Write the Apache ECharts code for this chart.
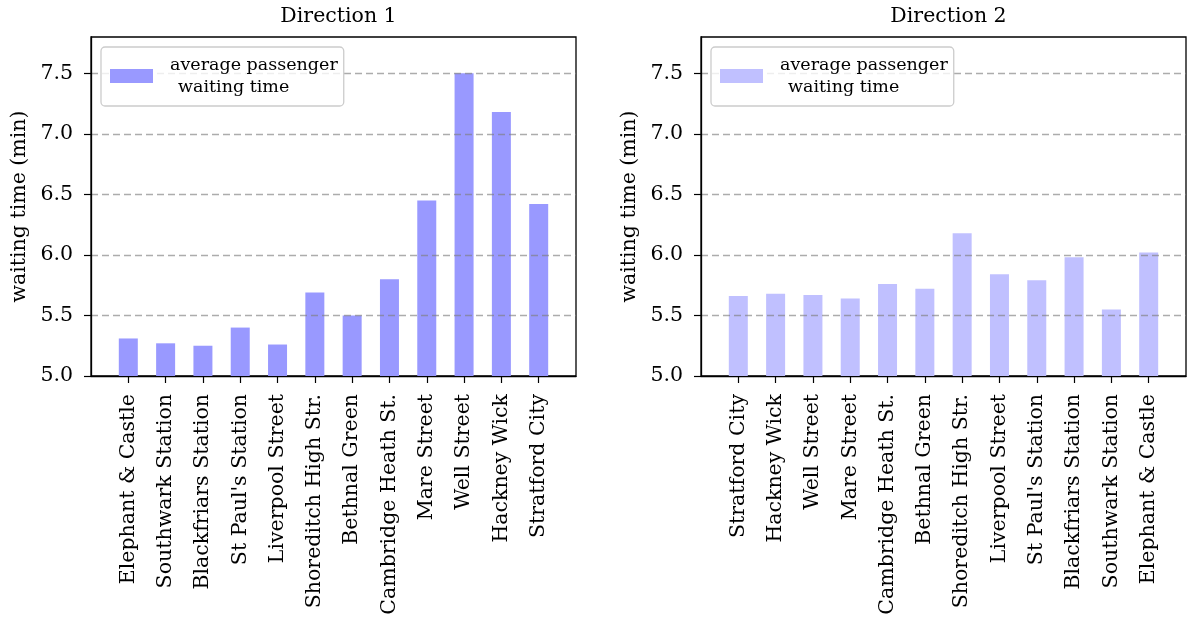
<!DOCTYPE html>
<html>
<head>
<meta charset="utf-8">
<script src="https://cdn.jsdelivr.net/npm/echarts@6/dist/echarts.min.js"></script>
<style>html,body{margin:0;padding:0;background:#fff}#c{width:1194px;height:621px}</style>
</head>
<body>
<div id="c"></div>
<script>
const categories1 = ['Elephant & Castle','Southwark Station','Blackfriars Station',"St Paul's Station",'Liverpool Street','Shoreditch High Str.','Bethnal Green','Cambridge Heath St.','Mare Street','Well Street','Hackney Wick','Stratford City'];
const values1 = [5.31, 5.27, 5.25, 5.40, 5.26, 5.69, 5.50, 5.80, 6.45, 7.50, 7.18, 6.42];
const categories2 = ['Stratford City','Hackney Wick','Well Street','Mare Street','Cambridge Heath St.','Bethnal Green','Shoreditch High Str.','Liverpool Street',"St Paul's Station",'Blackfriars Station','Southwark Station','Elephant & Castle'];
const values2 = [5.66, 5.68, 5.67, 5.64, 5.76, 5.72, 6.18, 5.84, 5.79, 5.98, 5.55, 6.02];
const titles = ['Direction 1', 'Direction 2'];
const yAxisName = 'waiting time (min)';
const legendLines = ['average passenger', 'waiting time'];

const FONT = 'DejaVu Serif';
const FS = 20.5;
const LFS = 17.5;
const colors = ['#9999ff', '#c0c0ff'];
const grids = [{left: 91, top: 37, width: 485, height: 339}, {left: 701, top: 37, width: 485, height: 339}];

function xAxis(cats, gi) {
  return {
    type: 'category', gridIndex: gi, boundaryGap: false,
    data: [''].concat(cats, ['']),
    axisLine: {lineStyle: {color: '#000', width: 1.3}},
    axisTick: {interval: (i, v) => v !== '', length: 7, lineStyle: {color: '#000', width: 1.2}},
    axisLabel: {interval: 0, rotate: 90, margin: 18, color: '#000', fontFamily: FONT, fontSize: FS},
    splitLine: {show: false}
  };
}
function yAxis(gi) {
  return {
    type: 'value', gridIndex: gi, min: 5, max: 7.8, interval: 0.5, z: 3,
    name: yAxisName, nameLocation: 'middle', nameGap: 61, nameRotate: 90,
    nameTextStyle: {color: '#000', fontFamily: FONT, fontSize: FS},
    axisLine: {show: true, lineStyle: {color: '#000', width: 1.3}},
    axisTick: {show: true, length: 7, lineStyle: {color: '#000', width: 1.2}},
    axisLabel: {showMaxLabel: false, margin: 18, color: '#000', fontFamily: FONT, fontSize: FS, formatter: v => v.toFixed(1)},
    splitLine: {show: true, showMinLine: false, showMaxLine: false, lineStyle: {color: 'rgba(128,128,128,0.65)', width: 1.4, type: [7, 4]}}
  };
}
const names = ['s1', 's2'];
const option = {
  animation: false,
  backgroundColor: '#fff',
  title: titles.map((t, i) => ({text: t, left: grids[i].left + grids[i].width / 2, top: 1, textAlign: 'center',
    textStyle: {fontFamily: FONT, fontSize: FS, fontWeight: 'normal', color: '#000'}})),
  grid: grids.map(g => Object.assign({show: true, borderColor: '#000', borderWidth: 1.3, backgroundColor: 'transparent'}, g)),
  legend: [0, 1].map(i => ({
    data: [{name: names[i], icon: 'rect'}], left: grids[i].left + 10, top: 47,
    orient: 'vertical', padding: [9, 6, 10, 9], itemWidth: 43, itemHeight: 14,
    backgroundColor: 'rgba(255,255,255,0.8)', borderColor: '#cccccc', borderWidth: 1.3, borderRadius: 4,
    formatter: () => '{a|' + legendLines[0] + '}\n{b|' + legendLines[1] + '}',
    textStyle: {fontFamily: FONT, fontSize: LFS, color: '#000', rich: {
      a: {fontFamily: FONT, fontSize: LFS, lineHeight: 22, padding: [0, 0, 0, 12]},
      b: {fontFamily: FONT, fontSize: LFS, lineHeight: 22, padding: [0, 0, 0, 20]}}}
  })),
  xAxis: [xAxis(categories1, 0), xAxis(categories2, 1)],
  yAxis: [yAxis(0), yAxis(1)],
  series: [values1, values2].map((vals, i) => ({
    type: 'bar', name: names[i], xAxisIndex: i, yAxisIndex: i, barWidth: 19,
    itemStyle: {color: colors[i]},
    data: ['-'].concat(vals, ['-'])
  }))
};
echarts.init(document.getElementById('c')).setOption(option);
</script>
</body>
</html>
